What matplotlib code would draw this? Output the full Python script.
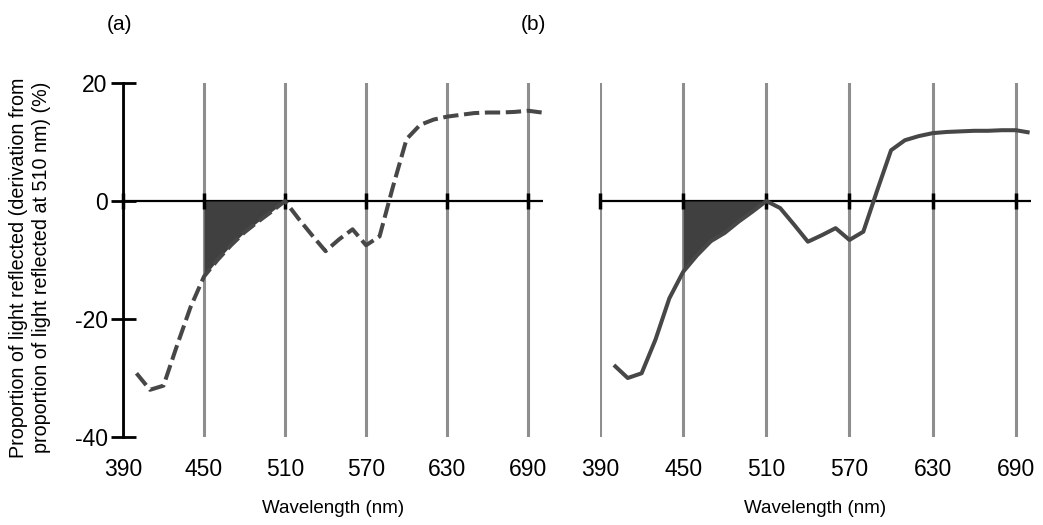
import matplotlib
matplotlib.use('Agg')
import matplotlib.pyplot as plt
import numpy as np

plt.rcParams['font.family'] = ['Liberation Sans', 'DejaVu Sans']
plt.rcParams['axes.unicode_minus'] = False

# wavelength (nm), sampled every 10 nm
wavelength = np.arange(400, 701, 10)

# panel (a): dashed curve
refl_a = [-29.2, -32.0, -31.3, -24.5, -18.0, -12.8, -10.0, -7.5, -5.3, -3.5,
          -1.8, 0.0, -3.0, -5.8, -8.5, -6.5, -4.8, -7.5, -6.0, 2.5,
          10.5, 12.9, 13.8, 14.3, 14.6, 14.9, 15.0, 15.0, 15.1, 15.3, 15.0]

# panel (b): solid curve
refl_b = [-27.8, -30.0, -29.2, -23.5, -16.5, -12.0, -9.2, -6.8, -5.4, -3.5,
          -1.8, 0.0, -1.2, -4.0, -6.9, -5.8, -4.6, -6.6, -5.2, 1.8,
          8.6, 10.3, 11.0, 11.5, 11.7, 11.8, 11.9, 11.9, 12.0, 12.0, 11.6]

xticks = [390, 450, 510, 570, 630, 690]
yticks = [-40, -20, 0, 20]
shade_lo, shade_hi = 450, 510

ylabel = ('Proportion of light reflected (derivation from\n'
          'proportion of light reflected at 510 nm) (%)')

line_col = '#474747'
grid_col = '#8e8e8e'

fig = plt.figure(figsize=(10.43, 5.25), dpi=100)
ax_a = fig.add_axes([0.1179, 0.1676, 0.4027, 0.6743])
ax_b = fig.add_axes([0.5753, 0.1676, 0.4132, 0.6743])


def setup(ax, show_y):
    ax.set_xlim(390, 701)
    ax.set_ylim(-40, 20)
    ax.set_xticks(xticks)
    ax.grid(axis='x', color=grid_col, lw=2.2)
    ax.axhline(0, color='black', lw=1.6, zorder=2)
    # crossing ticks on the zero line
    ax.plot(xticks, np.zeros(len(xticks)), ls='none', marker='|',
            ms=12, mew=2.5, color='black', zorder=2.2, clip_on=False)
    for s in ['top', 'right', 'bottom']:
        ax.spines[s].set_visible(False)
    ax.tick_params(axis='x', length=0, labelsize=16.5, pad=15)
    ax.set_xlabel('Wavelength (nm)', fontsize=13.5, labelpad=14)
    if show_y:
        ax.spines['left'].set_linewidth(2)
        ax.spines['left'].set_color('black')
        ax.set_yticks(yticks)
        ax.tick_params(axis='y', direction='inout', length=18, width=2,
                       labelsize=16.5, pad=2)
    else:
        ax.spines['left'].set_visible(False)
        ax.set_yticks([])


def draw(ax, vals, ls):
    vals = np.array(vals)
    mask = (wavelength >= shade_lo) & (wavelength <= shade_hi)
    ax.fill_between(wavelength, vals, 0, where=mask, color='#404040',
                    lw=0, zorder=2.1)
    line, = ax.plot(wavelength, vals, color=line_col, lw=2.9, zorder=3,
                    solid_capstyle='butt')
    if ls == 'dashed':
        line.set_dashes([3.8, 1.4])


setup(ax_a, True)
setup(ax_b, False)
draw(ax_a, refl_a, 'dashed')
draw(ax_b, refl_b, 'solid')

fig.text(0.029, 0.49, ylabel, rotation=90, ha='center', va='center',
         multialignment='center', fontsize=14.2, linespacing=1.3)
fig.text(120 / 1043, 1 - 25 / 525, '(a)', ha='center', va='center', fontsize=15)
fig.text(533 / 1043, 1 - 25 / 525, '(b)', ha='center', va='center', fontsize=15)

fig.savefig('out.png', dpi=100)
